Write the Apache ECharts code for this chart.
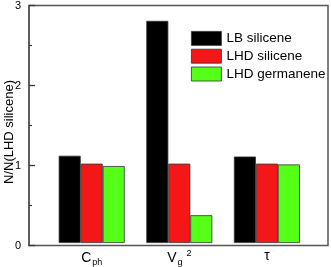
<!DOCTYPE html>
<html>
<head>
<meta charset="utf-8">
<script src="https://cdn.jsdelivr.net/npm/echarts@6/dist/echarts.min.js"></script>
<style>html,body{margin:0;padding:0;background:#fff}#c{width:331px;height:267px}</style>
</head>
<body>
<div id="c"></div>
<script>
var categories = ['Cph', 'Vg2', 'tau'];
var categoryLabels = ['{m|C}{sub|ph}', '{m|V}{sub|g}{sup|2}', '{m|τ}'];
var seriesNames = ['LB silicene', 'LHD silicene', 'LHD germanene'];
var lbSilicene = [1.10, 2.80, 1.09];
var lhdSilicene = [1.00, 1.00, 1.00];
var lhdGermanene = [0.97, 0.35, 0.99];
var yTicks = [0, 1, 2, 3];
var yAxisTitle = 'N/N(LHD silicene)';

var font = 'Liberation Sans, Arial, sans-serif';
var colors = ['#000000', '#f51717', '#55ff17'];
var chart = echarts.init(document.getElementById('c'), null, {renderer: 'canvas'});
var seriesData = [lbSilicene, lhdSilicene, lhdGermanene];
var series = seriesData.map(function (d, i) {
  return {
    name: seriesNames[i], type: 'bar', xAxisIndex: 1, yAxisIndex: 1,
    data: d, barWidth: 22, barGap: '0%',
    itemStyle: {color: colors[i], borderColor: '#333', borderWidth: 0.8},
    animation: false
  };
});
chart.setOption({
  animation: false,
  textStyle: {fontFamily: font},
  grid: [
    {left: 29, top: 5, right: 3, bottom: 21.5, show: true, borderColor: '#555', borderWidth: 1.5, backgroundColor: 'transparent'},
    {left: 47.9, top: 5, width: 262.8, bottom: 21.5}
  ],
  legend: {
    data: seriesNames, orient: 'vertical', left: 191, top: 31, padding: 0,
    itemWidth: 30, itemHeight: 14, itemGap: 3, icon: 'rect',
    textStyle: {fontSize: 13.5, color: '#000', fontFamily: font, padding: [0, 0, 0, 0]},
    itemStyle: {borderColor: '#333', borderWidth: 0.8}
  },
  xAxis: [
    {gridIndex: 0, type: 'value', min: 0, max: 1, show: false},
    {gridIndex: 1, type: 'category', data: categories,
     axisLine: {show: false}, axisTick: {show: false},
     axisLabel: {
       margin: 6, color: '#000', interval: 0, hideOverlap: false,
       formatter: function (v, idx) { return categoryLabels[idx]; },
       rich: {
         m: {fontSize: 14, fontFamily: font, color: '#000'},
         sub: {fontSize: 9, fontFamily: font, color: '#000', padding: [9, 0, 0, 1]},
         sup: {fontSize: 9, fontFamily: font, color: '#000', padding: [0, 0, 9, 4]}
       }
     }}
  ],
  yAxis: [
    {gridIndex: 0, type: 'value', min: yTicks[0], max: yTicks[yTicks.length - 1], interval: 1,
     axisLine: {show: true, lineStyle: {color: '#555', width: 1.5}},
     axisTick: {show: true, inside: true, length: 6, lineStyle: {color: '#333', width: 1.3}},
     minorTick: {show: true, splitNumber: 2, length: 3, lineStyle: {color: '#333', width: 1.2}},
     splitLine: {show: false},
     axisLabel: {fontSize: 11, color: '#000', margin: 8, fontFamily: font}},
    {gridIndex: 1, type: 'value', min: 0, max: 3, show: false}
  ],
  graphic: [{
    type: 'text', x: 9, y: 132, rotation: Math.PI / 2,
    style: {text: yAxisTitle, fontSize: 13, fontFamily: font, fill: '#000', textAlign: 'center', textVerticalAlign: 'middle'}
  }],
  series: series
});
</script>
</body>
</html>
